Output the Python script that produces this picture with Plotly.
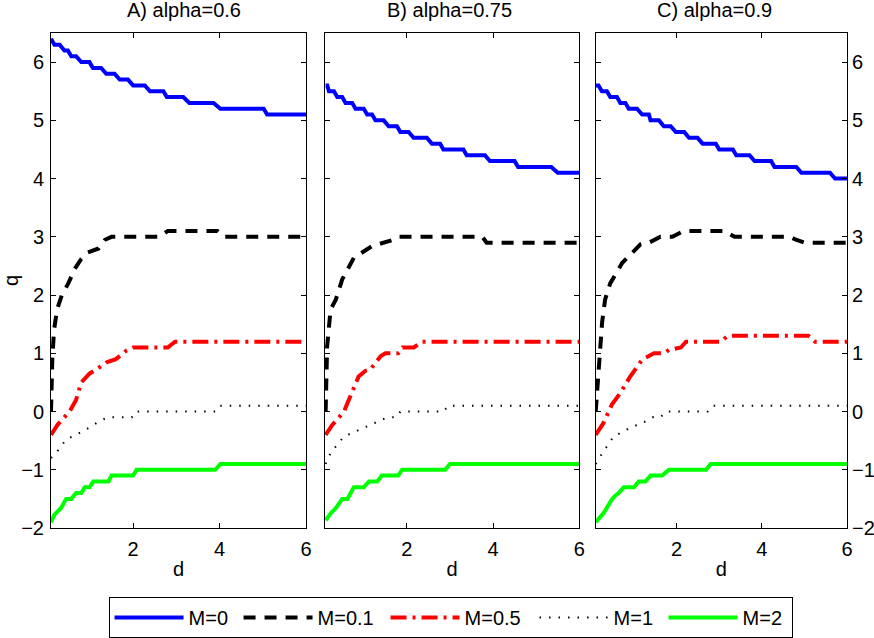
import plotly.graph_objects as go
from plotly.subplots import make_subplots

# ---------------- data ----------------
panel_titles = ["A) alpha=0.6", "B) alpha=0.75", "C) alpha=0.9"]
series_names = ["M=0", "M=0.1", "M=0.5", "M=1", "M=2"]

# Panel A (alpha = 0.6)
a_m0_d = [0.10, 0.18, 0.30, 0.41, 0.49, 0.57, 0.68, 0.80, 0.99, 1.07, 1.26, 1.38, 1.57, 1.69, 1.88, 2.00, 2.27, 2.39, 2.70, 2.78, 3.16, 3.30, 3.86, 4.02, 5.02, 5.10, 6.00]
a_m0_q = [6.4, 6.3, 6.3, 6.2, 6.2, 6.1, 6.1, 6.0, 6.0, 5.9, 5.9, 5.8, 5.8, 5.7, 5.7, 5.6, 5.6, 5.5, 5.5, 5.4, 5.4, 5.3, 5.3, 5.2, 5.2, 5.1, 5.1]
a_m01_d = [0.10, 0.13, 0.17, 0.24, 0.35, 0.50, 0.65, 0.80, 0.95, 1.20, 1.35, 1.50, 2.60, 2.80, 3.95, 4.10, 6.00]
a_m01_q = [0.0, 0.9, 1.4, 1.75, 2.0, 2.2, 2.45, 2.62, 2.73, 2.8, 2.95, 3.0, 3.0, 3.1, 3.1, 3.0, 3.0]
a_m05_d = [0.10, 0.26, 0.53, 0.68, 0.80, 0.99, 1.10, 1.40, 1.60, 1.85, 2.00, 2.80, 2.97, 6.00]
a_m05_q = [-0.4, -0.22, 0.0, 0.2, 0.5, 0.65, 0.7, 0.85, 0.9, 1.05, 1.1, 1.1, 1.2, 1.2]
a_m1_d = [0.10, 0.25, 0.45, 0.84, 1.15, 1.40, 1.97, 2.05, 3.90, 4.00, 6.00]
a_m1_q = [-0.8, -0.68, -0.48, -0.34, -0.2, -0.1, -0.1, 0.0, 0.0, 0.1, 0.1]
a_m2_d = [0.10, 0.18, 0.33, 0.45, 0.57, 0.68, 0.80, 0.88, 0.99, 1.08, 1.43, 1.50, 2.00, 2.08, 3.90, 4.02, 6.00]
a_m2_q = [-1.9, -1.77, -1.66, -1.5, -1.5, -1.4, -1.4, -1.3, -1.3, -1.2, -1.2, -1.1, -1.1, -1.0, -1.0, -0.9, -0.9]

# Panel B (alpha = 0.75)
b_m0_d = [0.115, 0.154, 0.192, 0.308, 0.385, 0.50, 0.577, 0.731, 0.808, 1.00, 1.078, 1.193, 1.27, 1.462, 1.578, 1.77, 1.848, 2.04, 2.156, 2.463, 2.579, 2.771, 2.848, 3.31, 3.387, 3.81, 3.926, 4.50, 4.58, 5.35, 5.50, 6.00]
b_m0_q = [5.6, 5.6, 5.5, 5.5, 5.4, 5.4, 5.3, 5.3, 5.2, 5.2, 5.1, 5.1, 5.0, 5.0, 4.9, 4.9, 4.8, 4.8, 4.7, 4.7, 4.6, 4.6, 4.5, 4.5, 4.4, 4.4, 4.3, 4.3, 4.2, 4.2, 4.1, 4.1]
b_m01_d = [0.115, 0.13, 0.15, 0.23, 0.35, 0.50, 0.77, 1.19, 1.69, 1.80, 3.75, 3.85, 5.95, 6.00]
b_m01_q = [0.0, 0.6, 1.12, 1.75, 1.92, 2.27, 2.64, 2.84, 2.95, 3.0, 3.0, 2.9, 2.9, 2.85]
b_m05_d = [0.115, 0.27, 0.54, 0.69, 0.88, 1.04, 1.15, 1.39, 1.50, 1.80, 1.90, 2.16, 2.35, 6.00]
b_m05_q = [-0.4, -0.23, 0.0, 0.26, 0.6, 0.7, 0.72, 0.95, 1.0, 1.0, 1.1, 1.1, 1.2, 1.2]
b_m1_d = [0.115, 0.23, 0.54, 1.00, 1.39, 1.55, 1.75, 1.85, 2.85, 2.96, 6.00]
b_m1_q = [-0.9, -0.71, -0.43, -0.28, -0.14, -0.1, -0.1, 0.0, 0.0, 0.1, 0.1]
b_m2_d = [0.115, 0.23, 0.35, 0.50, 0.62, 0.70, 0.77, 1.00, 1.12, 1.31, 1.42, 1.80, 1.89, 2.89, 3.00, 6.00]
b_m2_q = [-1.87, -1.75, -1.66, -1.5, -1.5, -1.4, -1.3, -1.3, -1.2, -1.2, -1.1, -1.1, -1.0, -1.0, -0.9, -0.9]

# Panel C (alpha = 0.9)
c_m0_d = [0.103, 0.166, 0.245, 0.363, 0.442, 0.60, 0.678, 0.797, 0.875, 1.07, 1.19, 1.348, 1.387, 1.585, 1.70, 1.86, 1.98, 2.18, 2.29, 2.49, 2.61, 2.92, 3.00, 3.32, 3.40, 3.71, 3.83, 4.22, 4.30, 4.81, 4.93, 5.60, 5.72, 6.00]
c_m0_q = [5.6, 5.6, 5.5, 5.5, 5.4, 5.4, 5.3, 5.3, 5.2, 5.2, 5.1, 5.1, 5.0, 5.0, 4.9, 4.9, 4.8, 4.8, 4.7, 4.7, 4.6, 4.6, 4.5, 4.5, 4.4, 4.4, 4.3, 4.3, 4.2, 4.2, 4.1, 4.1, 4.0, 4.0]
c_m01_d = [0.10, 0.13, 0.17, 0.25, 0.32, 0.44, 0.72, 1.15, 1.35, 1.62, 1.90, 2.17, 3.12, 3.36, 4.66, 4.80, 5.00, 6.00]
c_m01_q = [0.0, 0.3, 0.84, 1.53, 1.92, 2.2, 2.55, 2.87, 2.9, 3.0, 3.0, 3.1, 3.1, 3.0, 3.0, 2.95, 2.9, 2.9]
c_m05_d = [0.10, 0.28, 0.48, 0.68, 0.91, 1.19, 1.47, 1.70, 1.82, 2.10, 2.22, 3.04, 3.20, 5.09, 5.25, 6.00]
c_m05_q = [-0.4, -0.2, 0.12, 0.32, 0.6, 0.89, 1.0, 1.0, 1.06, 1.1, 1.2, 1.2, 1.3, 1.3, 1.2, 1.2]
c_m1_d = [0.10, 0.25, 0.52, 0.91, 1.27, 1.43, 1.62, 1.75, 2.73, 2.85, 6.00]
c_m1_q = [-0.9, -0.72, -0.43, -0.28, -0.17, -0.1, -0.1, 0.0, 0.0, 0.1, 0.1]
c_m2_d = [0.10, 0.28, 0.48, 0.55, 0.64, 0.70, 0.76, 1.00, 1.11, 1.27, 1.39, 1.66, 1.82, 2.69, 2.80, 6.00]
c_m2_q = [-1.9, -1.75, -1.51, -1.45, -1.4, -1.35, -1.3, -1.3, -1.2, -1.2, -1.1, -1.1, -1.0, -1.0, -0.9, -0.9]

panels = [
    [(a_m0_d, a_m0_q), (a_m01_d, a_m01_q), (a_m05_d, a_m05_q), (a_m1_d, a_m1_q), (a_m2_d, a_m2_q)],
    [(b_m0_d, b_m0_q), (b_m01_d, b_m01_q), (b_m05_d, b_m05_q), (b_m1_d, b_m1_q), (b_m2_d, b_m2_q)],
    [(c_m0_d, c_m0_q), (c_m01_d, c_m01_q), (c_m05_d, c_m05_q), (c_m1_d, c_m1_q), (c_m2_d, c_m2_q)],
]

# ---------------- styles ----------------
line_styles = [
    dict(color="#0000ff", width=4, dash="solid"),
    dict(color="#000000", width=4, dash="12px,9px"),
    dict(color="#ff0000", width=4, dash="16px,6px,3px,6px"),
    dict(color="#000000", width=2, dash="1.5px,8px"),
    dict(color="#00ff00", width=4, dash="solid"),
]
legend_entry_widths = [45, 63, 65, 45, 44]

FONT = "Liberation Sans, Arial, sans-serif"
FS = 20

fig = make_subplots(rows=1, cols=3, subplot_titles=panel_titles,
                    horizontal_spacing=0.0)

for p, series in enumerate(panels):
    for s, (d, q) in enumerate(series):
        fig.add_trace(go.Scatter(
            x=d, y=q, mode="lines", name=series_names[s],
            line=line_styles[s], showlegend=(p == 0),
            legendwidth=legend_entry_widths[s],
        ), row=1, col=p + 1)

domains = [[0.0, 0.3204], [0.3442, 0.6637], [0.6843, 1.0]]
for i in range(3):
    xa = "xaxis" if i == 0 else f"xaxis{i+1}"
    ya = "yaxis" if i == 0 else f"yaxis{i+1}"
    fig.layout[xa].update(
        domain=domains[i], range=[0.1, 6.0], tickvals=[2, 4, 6],
        showline=True, linecolor="black", linewidth=1, mirror="ticks",
        ticks="inside", ticklen=5, tickcolor="black", showgrid=False,
        zeroline=False, tickfont=dict(size=FS, color="black", family=FONT),
        title=dict(text="d", font=dict(size=FS, color="black", family=FONT), standoff=2),
        ticklabelstandoff=3, automargin=False,
    )
    fig.layout[ya].update(
        range=[-2, 6.5], tickvals=[-2, -1, 0, 1, 2, 3, 4, 5, 6],
        showline=True, linecolor="black", linewidth=1, mirror="ticks",
        ticks="inside", ticklen=5, tickcolor="black", showgrid=False,
        zeroline=False, tickfont=dict(size=FS, color="black", family=FONT),
        showticklabels=(i != 1), side=("right" if i == 2 else "left"),
        ticklabelstandoff=(2 if i == 0 else 0), automargin=False,
    )
fig.layout.yaxis.title = dict(text="q", font=dict(size=FS, color="black", family=FONT), standoff=6)

for ann in fig.layout.annotations:
    ann.font = dict(size=FS, color="black", family=FONT)
    ann.yshift = 10

fig.update_layout(
    width=874, height=638,
    margin=dict(l=51, r=27, t=33, b=110, autoexpand=False),
    paper_bgcolor="white", plot_bgcolor="white",
    font=dict(family=FONT, color="black", size=FS),
    legend=dict(orientation="h", xref="container", yref="container",
                x=0.5155, xanchor="center", y=1 - 597 / 638, yanchor="top",
                bordercolor="black", borderwidth=1, bgcolor="white",
                font=dict(size=FS, color="black", family=FONT),
                itemwidth=69, tracegroupgap=0),
)

fig.write_html("out.html")
